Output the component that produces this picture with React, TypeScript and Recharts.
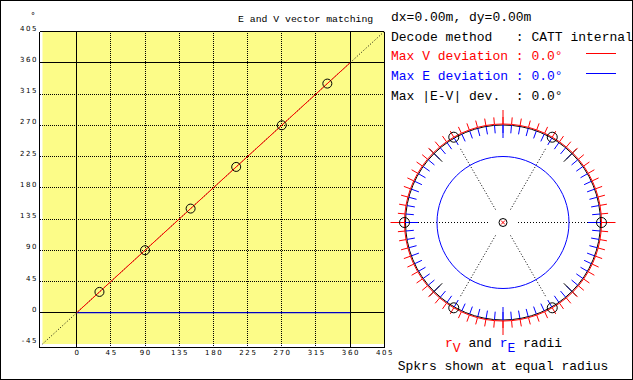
import React from 'react'
import {
  ComposedChart,
  Line,
  Scatter,
  XAxis,
  YAxis,
  ReferenceLine,
  ReferenceArea,
  RadarChart,
  Radar,
  PolarAngleAxis,
  PolarRadiusAxis,
} from 'recharts'

// left plot: source angle vs decoded angle, degrees
const xTicks = [0, 45, 90, 135, 180, 225, 270, 315, 360, 405]
const yTicks = [-45, 0, 45, 90, 135, 180, 225, 270, 315, 360, 405]
const dottedGrid = [45, 90, 135, 180, 225, 270, 315]
const solidGrid = [0, 360, 405]

const idealSrc = [-45, 405]
const idealOut = [-45, 405]
const vSrc = [0, 360]
const vOut = [0, 360]
const eSrc = [0, 360]
const eDev = [0, 0]
const spkSrc = [30, 90, 150, 210, 270, 330]
const spkOut = [30, 90, 150, 210, 270, 330]

// right plot: rV / rE over source direction (azimuth, clockwise from front)
const dirAz = Array.from({ length: 72 }, (_, i) => i * 5)
const rV = 1.0
const rE = 0.67
const speakerAz = [30, 90, 150, 210, 270, 330]
const mainAz = [0, 90, 180, 270]
const diagAz = [45, 135, 225, 315]

const RED = '#ff0000'
const BLUE = '#0000ff'
const YELLOW = '#fcfc88'
const MONO = "'Liberation Mono', 'Courier New', monospace"
const CX = 503
const CY = 222.5
const R = 98

const toPts = (xs: number[], ys: number[]) => xs.map((x, i) => ({ x, y: ys[i] }))
const idealLine = toPts(idealSrc, idealOut)
const vLine = toPts(vSrc, vOut)
const eLine = toPts(eSrc, eDev)
const spkPts = toPts(spkSrc, spkOut)

const polarRows = dirAz.map((az) => ({ az, rV, rE, spk: 1, lst: 0, r: 1 }))
const mainRows = mainAz.map((az) => ({ az, r: 1 }))
const diagRows = diagAz.map((az) => ({ az, r: 1 }))
const spkRows = speakerAz.map((az) => ({ az, r: 1 }))

const abs: React.CSSProperties = { position: 'absolute', left: 0, top: 0 }
const noMargin = { top: 0, right: 0, bottom: 0, left: 0 }
const pre: React.CSSProperties = { whiteSpace: 'pre' }

const YTick = (p: any) => (
  <text x={p.x} y={p.y - 1} dx={1.6} textAnchor="end" fontSize={7} fontFamily="DejaVu Sans" letterSpacing={1.6} fill="#000">
    {p.payload.value}
  </text>
)

const XTick = (p: any) => (
  <text x={p.x} y={p.y + 7} dx={0.8} textAnchor="middle" fontSize={7} fontFamily="DejaVu Sans" letterSpacing={1.6} fill="#000">
    {p.payload.value}
  </text>
)

const SpkCircle = (p: any) => <circle cx={p.cx} cy={p.cy} r={4.5} fill="none" stroke="#000" />

const SpkDot = (p: any) => {
  const row = polarRows[p.index]
  if (!row || !speakerAz.includes(row.az)) return null
  return <circle key={p.key} cx={p.cx} cy={p.cy} r={5} fill="none" stroke="#000" />
}

const ListenerDot = (p: any) => {
  if (p.index !== 0) return null
  return (
    <g key={p.key}>
      <circle cx={p.cx} cy={p.cy} r={4} fill="none" stroke="#000" />
      <line x1={p.cx - 2} y1={p.cy - 2} x2={p.cx + 2} y2={p.cy + 2} stroke={RED} />
      <line x1={p.cx - 2} y1={p.cy + 2} x2={p.cx + 2} y2={p.cy - 2} stroke={RED} />
    </g>
  )
}

function TickRing(props: {
  rows: any[]
  radius: number
  size: number
  color: string
  inner?: boolean
  start?: number
  dash?: string
  circle?: boolean
}) {
  const start = props.start ?? 90
  return (
    <div style={abs}>
      <RadarChart
        width={633}
        height={380}
        data={props.rows}
        cx={CX}
        cy={CY}
        outerRadius={props.radius}
        startAngle={start}
        endAngle={start - 360}
        margin={noMargin}
      >
        <PolarRadiusAxis domain={[0, 1]} tick={false} axisLine={false} />
        <PolarAngleAxis
          dataKey="az"
          tick={false}
          tickSize={props.size}
          orientation={props.inner ? 'inner' : 'outer'}
          axisLineType="circle"
          axisLine={props.circle ? { stroke: '#000', fill: 'none' } : false}
          tickLine={{ stroke: props.color, strokeDasharray: props.dash }}
        />
        <Radar dataKey="r" stroke="none" fill="none" isAnimationActive={false} />
      </RadarChart>
    </div>
  )
}

export default function App() {
  return (
    <div style={{ ...abs, width: 633, height: 380, background: '#fff', overflow: 'hidden' }}>
      <div style={abs}>
        <ComposedChart width={400} height={380} margin={{ top: 31.5, right: 15.7, bottom: 12.5, left: 0 }}>
          <XAxis
            type="number"
            dataKey="x"
            domain={[-45, 405]}
            ticks={xTicks}
            interval={0}
            padding={{ left: 3, right: 0 }}
            axisLine={{ stroke: '#000', shapeRendering: 'crispEdges' }}
            tickLine={false}
            tickSize={0}
            tickMargin={0}
            height={20}
            tick={XTick}
          />
          <YAxis
            type="number"
            dataKey="y"
            domain={[-45, 405]}
            ticks={yTicks}
            interval={0}
            padding={{ top: 0, bottom: 3.5 }}
            width={39.5}
            axisLine={{ stroke: '#000', shapeRendering: 'crispEdges' }}
            tickLine={false}
            tickSize={0}
            tickMargin={3}
            tick={YTick}
          />
          <ReferenceArea x1={-45} x2={405} y1={-45} y2={405} fill={YELLOW} fillOpacity={1} stroke="none" />
          {dottedGrid.map((v) => (
            <ReferenceLine key={'vx' + v} x={v} stroke="#000" strokeDasharray="1 1" shapeRendering="crispEdges" />
          ))}
          {dottedGrid.map((v) => (
            <ReferenceLine key={'hy' + v} y={v} stroke="#000" strokeDasharray="1 1" shapeRendering="crispEdges" />
          ))}
          {solidGrid.map((v) => (
            <ReferenceLine key={'sx' + v} x={v} stroke="#000" shapeRendering="crispEdges" />
          ))}
          {solidGrid.map((v) => (
            <ReferenceLine key={'sy' + v} y={v} stroke="#000" shapeRendering="crispEdges" />
          ))}
          <Line data={idealLine} dataKey="y" type="linear" stroke="#000" strokeDasharray="1 2" dot={false} isAnimationActive={false} />
          <Line data={eLine} dataKey="y" type="linear" stroke={BLUE} dot={false} isAnimationActive={false} />
          <Line data={vLine} dataKey="y" type="linear" stroke={RED} dot={false} isAnimationActive={false} />
          <Scatter data={spkPts} dataKey="y" shape={SpkCircle} isAnimationActive={false} />
        </ComposedChart>
      </div>

      {/* speaker circle with inward E ticks */}
      <TickRing rows={polarRows} radius={R - 0.5} size={8} color={BLUE} inner circle />
      <TickRing rows={mainRows} radius={R} size={13.5} color={BLUE} inner />
      <TickRing rows={mainRows} radius={R} size={14.5} color={RED} />
      <TickRing rows={diagRows} radius={86} size={18} color="#000" start={45} />
      <TickRing rows={spkRows} radius={15} size={70} color="#000" start={60} dash="1 2" />

      <div style={abs}>
        <RadarChart width={633} height={380} data={polarRows} cx={CX} cy={CY} outerRadius={R + 0.5} margin={noMargin}>
          <PolarRadiusAxis domain={[0, 1]} tick={false} axisLine={false} />
          <PolarAngleAxis dataKey="az" tick={false} tickSize={7} axisLine={false} tickLine={{ stroke: RED }} />
          <Radar dataKey="rE" stroke={BLUE} fill="none" isAnimationActive={false} />
          <Radar dataKey="rV" stroke={RED} fill="none" isAnimationActive={false} />
          <Radar dataKey="spk" stroke="none" fill="none" dot={SpkDot} isAnimationActive={false} />
          <Radar dataKey="lst" stroke="none" fill="none" dot={ListenerDot} isAnimationActive={false} />
        </RadarChart>
      </div>

      <svg width={633} height={380} style={abs}>
        <text x={31} y={19} fontSize={8} fontFamily="DejaVu Sans">°</text>
        <text x={238} y={22} fontSize={9.8} fontFamily={MONO} fill="#000" xmlSpace="preserve" style={pre}>
          E and V vector matching
        </text>
        <g fontFamily={MONO} fontSize={13}>
          <text x={391} y={21} fill="#000" xmlSpace="preserve" style={pre}>dx=0.00m, dy=0.00m</text>
          <text x={391} y={40.7} fill="#000" xmlSpace="preserve" style={pre}>{'Decode method   : CATT internal'}</text>
          <text x={391} y={60.3} fill={RED} xmlSpace="preserve" style={pre}>{'Max V deviation : 0.0°'}</text>
          <text x={391} y={80} fill={BLUE} xmlSpace="preserve" style={pre}>{'Max E deviation : 0.0°'}</text>
          <text x={391} y={99.7} fill="#000" xmlSpace="preserve" style={pre}>{'Max |E-V| dev.  : 0.0°'}</text>
          <text x={445} y={346.5} fill="#000" xmlSpace="preserve" style={pre}>
            <tspan fill={RED}>r</tspan>
            <tspan fill={RED} dy={5}>V</tspan>
            <tspan dy={-5}>{' and '}</tspan>
            <tspan fill={BLUE}>r</tspan>
            <tspan fill={BLUE} dy={5}>E</tspan>
            <tspan dy={-5}>{' radii'}</tspan>
          </text>
          <text x={397.7} y={370} fill="#000" xmlSpace="preserve" style={pre}>Spkrs shown at equal radius</text>
        </g>
        <rect x={586} y={53} width={30} height={1} fill={RED} />
        <rect x={586} y={73} width={30} height={1} fill={BLUE} />
      </svg>

      <div style={{ ...abs, width: 633, height: 380, border: '1px solid #000', boxSizing: 'border-box' }} />
    </div>
  )
}
